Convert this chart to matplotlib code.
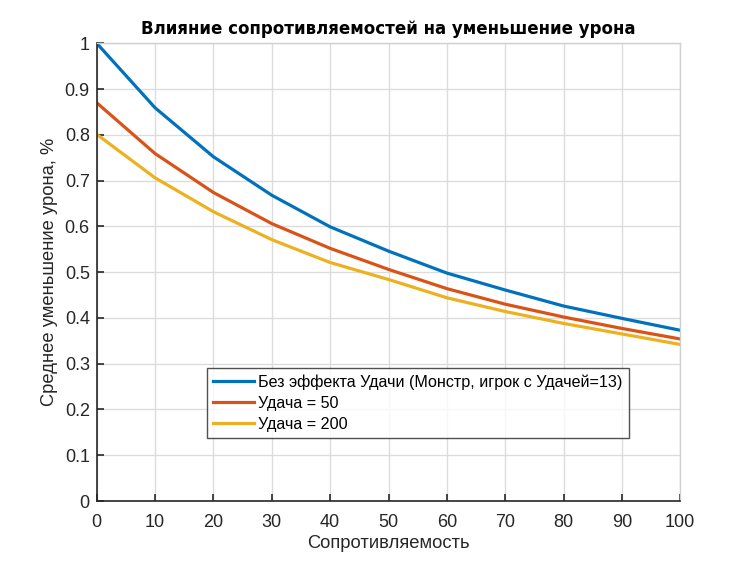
import matplotlib
matplotlib.use("Agg")
import matplotlib.pyplot as plt

resist = [0, 10, 20, 30, 40, 50, 60, 70, 80, 90, 100]
no_luck = [1.000, 0.859, 0.752, 0.668, 0.599, 0.546, 0.498, 0.461, 0.426, 0.399, 0.373]
luck50 = [0.870, 0.759, 0.674, 0.606, 0.552, 0.506, 0.464, 0.430, 0.402, 0.377, 0.354]
luck200 = [0.801, 0.706, 0.632, 0.571, 0.521, 0.484, 0.444, 0.414, 0.388, 0.365, 0.342]

labels = ["Без эффекта Удачи (Монстр, игрок с Удачей=13)", "Удача = 50", "Удача = 200"]
colors = ["#0072BD", "#D95319", "#EDB120"]

plt.rcParams['font.family'] = ['Liberation Sans', 'DejaVu Sans']

fig = plt.figure(figsize=(7.5, 5.62), dpi=100)
ax = fig.add_axes([0.129, 0.1085, 0.778, 0.8145])

for ys, lab, c in zip([no_luck, luck50, luck200], labels, colors):
    ax.plot(resist, ys, color=c, linewidth=2.3, label=lab)

ax.set_xlim(0, 100)
ax.set_ylim(0, 1)
ax.set_xticks(resist)
ax.set_yticks([i / 10 for i in range(11)])
ax.set_yticklabels(["0", "0.1", "0.2", "0.3", "0.4", "0.5", "0.6", "0.7", "0.8", "0.9", "1"])
ax.grid(True, color="#dcdcdc", linewidth=1.0)
ax.set_axisbelow(True)
for s in ["left", "bottom"]:
    ax.spines[s].set_color("#262626")
    ax.spines[s].set_linewidth(1.2)
for s in ["top", "right"]:
    ax.spines[s].set_color("#d0d0d0")
    ax.spines[s].set_linewidth(1.0)
ax.tick_params(direction="in", length=5, width=1.2, colors="#262626", labelsize=13)
ax.tick_params(axis="x", pad=9)
ax.tick_params(axis="y", pad=5)

ax.set_xlabel("Сопротивляемость", fontsize=13.2, color="#262626", labelpad=3)
ax.set_ylabel("Среднее уменьшение урона, %", fontsize=13.2, color="#262626", labelpad=5)
ax.set_title("Влияние сопротивляемостей на уменьшение урона", fontsize=12,
             fontweight="bold", family=["DejaVu Sans"], pad=7)

leg = ax.legend(loc="lower left", bbox_to_anchor=(0.1887, 0.1376), borderaxespad=0,
                fontsize=11.6, frameon=True, fancybox=False, borderpad=0.4,
                labelspacing=0.37, handlelength=2.5, handletextpad=0.3)
leg.get_frame().set_edgecolor("#262626")
leg.get_frame().set_linewidth(1.0)

fig.savefig("out.png", dpi=100)
